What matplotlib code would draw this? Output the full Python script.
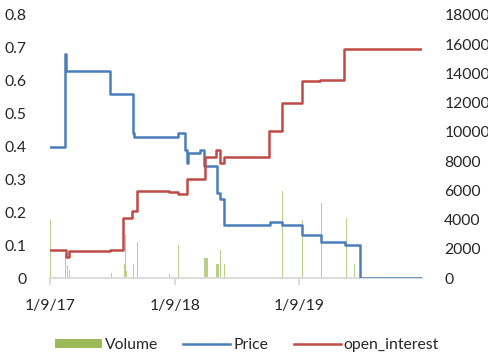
import numpy as np
import matplotlib
matplotlib.use("Agg")
import matplotlib.pyplot as plt
from matplotlib.patches import Patch
from matplotlib.lines import Line2D

plt.rcParams['font.family'] = ['Lato', 'DejaVu Sans']

start = np.datetime64('2017-01-09')

# Price (step changes: day offset from start, value)
price_days = [0, 45, 47, 177, 243, 246, 374, 396, 401, 404, 438, 450, 489, 499, 510, 643, 680, 739, 793, 865, 908, 1089]
price_vals = [0.40, 0.68, 0.63, 0.56, 0.44, 0.43, 0.44, 0.39, 0.35, 0.38, 0.39, 0.34, 0.26, 0.24, 0.16, 0.17, 0.16, 0.13, 0.11, 0.10, 0.0, 0.0]

# Open interest (step changes)
oi_days = [0, 48, 56, 177, 214, 240, 255, 347, 374, 401, 453, 486, 499, 508, 642, 679, 738, 791, 861, 1089]
oi_vals = [1950, 1450, 1850, 1950, 4100, 4600, 5950, 5870, 5780, 6750, 8250, 8750, 7850, 8300, 10050, 12000, 13450, 13550, 15650, 15650]

# Daily volume
vol_days = [1, 46, 52, 56, 179, 218, 221, 224, 245, 257, 350, 377, 404, 451, 454, 457, 460,
            488, 491, 494, 500, 512, 644, 681, 740, 794, 867, 891]
vol_vals = [3960, 1560, 880, 580, 375, 945, 2930, 490, 945, 2475, 240, 2270, 1560, 1400, 1400, 1400, 1400,
            945, 945, 945, 1950, 945, 3590, 5945, 3960, 5100, 4115, 945]

tick_dates = ['2017-01-09', '2018-01-09', '2019-01-09']
tick_labels = ['1/9/17', '1/9/18', '1/9/19']
left_ticks = [0, 0.1, 0.2, 0.3, 0.4, 0.5, 0.6, 0.7, 0.8]
left_labels = ['0', '0.1', '0.2', '0.3', '0.4', '0.5', '0.6', '0.7', '0.8']
right_ticks = [0, 2000, 4000, 6000, 8000, 10000, 12000, 14000, 16000, 18000]

def to_dates(days):
    return (start + np.array(days, dtype='timedelta64[D]')).astype('datetime64[D]').astype(object)

c_vol = '#9BBB59'
c_price = '#4A7EBB'
c_oi = '#BE4B48'
txt = '#262626'
fs = 11.3

fig = plt.figure(figsize=(4.89, 3.54), dpi=100)
rect = [50 / 489, (354 - 278) / 354, 372 / 489, 263 / 354]
ax_vol = fig.add_axes(rect)
ax_price = ax_vol.twinx()
ax_oi = ax_vol.twinx()

ax_vol.bar(to_dates(vol_days), vol_vals, width=2.8, color=c_vol, alpha=0.7, linewidth=0)
ax_price.step(to_dates(price_days), price_vals, where='post', color=c_price, lw=1.8)
ax_oi.step(to_dates(oi_days), oi_vals, where='post', color=c_oi, lw=1.8)

x0 = to_dates([0])[0]
x1 = to_dates([1089])[0]
ax_vol.set_xlim(x0, x1)
ax_vol.set_ylim(0, 18000)
ax_oi.set_ylim(0, 18000)
ax_price.set_ylim(0, 0.8)

ax_vol.set_yticks([])
ax_price.yaxis.tick_left()
ax_price.set_yticks(left_ticks)
ax_price.set_yticklabels(left_labels)
ax_oi.set_yticks(right_ticks)
ax_oi.set_yticklabels([str(t) for t in right_ticks])

ax_vol.set_xticks([np.datetime64(d).astype(object) for d in tick_dates])
ax_vol.set_xticklabels(tick_labels)

for a in (ax_vol, ax_price, ax_oi):
    for s in a.spines.values():
        s.set_visible(False)
    a.patch.set_visible(False)

ax_vol.spines['bottom'].set_visible(True)
ax_vol.spines['bottom'].set_color('#D9D9D9')
ax_vol.spines['bottom'].set_linewidth(1.3)
ax_vol.tick_params(axis='x', length=5, width=1.3, color='#D9D9D9', labelsize=fs, labelcolor=txt, pad=10)
ax_price.tick_params(axis='y', length=0, labelsize=fs, labelcolor=txt, pad=17)
ax_oi.tick_params(axis='y', length=0, labelsize=fs, labelcolor=txt, pad=16)

handles = [Patch(facecolor=c_vol, edgecolor='none'),
           Line2D([], [], color=c_price, lw=1.8),
           Line2D([], [], color=c_oi, lw=1.8)]
fig.legend(handles, ['Volume', 'Price', 'open_interest'], loc='center', bbox_to_anchor=(0.505, 1 - 345 / 354),
           ncol=3, frameon=False, fontsize=fs, handlelength=3.0, handleheight=0.55, handletextpad=0.2,
           columnspacing=1.6, labelcolor=txt)

fig.savefig('out.png', dpi=100)
